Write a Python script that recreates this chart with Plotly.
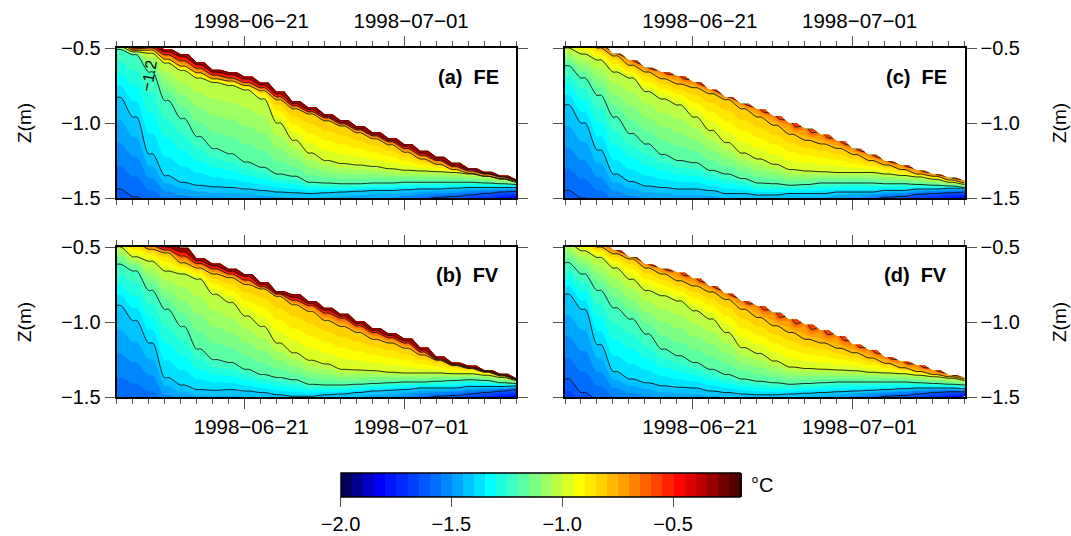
import numpy as np
import plotly.graph_objects as go

# Days since 1998-06-13; isotherm depths (m) read per day, per panel
DAYS = list(range(26))
DATE_TICKS = [8, 18]
DATE_LABELS = ["1998\u221206\u221221", "1998\u221207\u221201"]
DEPTH_TICKS = [-0.5, -1.0, -1.5]
CBAR_TICKS = [-2.0, -1.5, -1.0, -0.5]

a_m18 = [-1.72,-1.74,-1.76,-1.78,-1.80,-1.80,-1.80,-1.80,-1.80,-1.79,-1.78,-1.77,-1.76,-1.74,-1.72,-1.70,-1.67,-1.64,-1.61,-1.59,-1.57,-1.55,-1.53,-1.52,-1.505,-1.50]
a_m16 = [-1.44,-1.49,-1.53,-1.56,-1.57,-1.58,-1.59,-1.59,-1.59,-1.59,-1.59,-1.59,-1.59,-1.59,-1.58,-1.57,-1.56,-1.55,-1.53,-1.51,-1.495,-1.49,-1.48,-1.47,-1.46,-1.455]
a_m14 = [-0.83,-0.96,-1.205,-1.35,-1.395,-1.415,-1.425,-1.43,-1.44,-1.45,-1.46,-1.465,-1.47,-1.465,-1.46,-1.455,-1.45,-1.45,-1.445,-1.44,-1.44,-1.435,-1.43,-1.43,-1.43,-1.43]
a_m12 = [-0.51,-0.545,-0.66,-0.85,-0.97,-1.09,-1.17,-1.205,-1.26,-1.295,-1.34,-1.355,-1.395,-1.40,-1.405,-1.405,-1.40,-1.40,-1.395,-1.395,-1.395,-1.395,-1.395,-1.40,-1.405,-1.41]
a_m10 = [-0.49,-0.525,-0.535,-0.60,-0.65,-0.70,-0.73,-0.75,-0.78,-0.84,-1.0,-1.115,-1.20,-1.25,-1.27,-1.28,-1.29,-1.305,-1.315,-1.32,-1.325,-1.33,-1.34,-1.355,-1.375,-1.395]
a_m08 = [-0.47,-0.515,-0.515,-0.575,-0.62,-0.665,-0.705,-0.72,-0.75,-0.785,-0.845,-0.905,-0.94,-0.985,-1.02,-1.065,-1.105,-1.145,-1.195,-1.24,-1.275,-1.31,-1.335,-1.355,-1.37,-1.39]
a_m06 = [-0.45,-0.505,-0.50,-0.545,-0.585,-0.635,-0.68,-0.70,-0.73,-0.765,-0.825,-0.885,-0.925,-0.965,-1.005,-1.045,-1.085,-1.125,-1.17,-1.215,-1.25,-1.29,-1.32,-1.34,-1.36,-1.385]
a_m04 = [-0.43,-0.49,-0.485,-0.525,-0.555,-0.61,-0.66,-0.675,-0.705,-0.745,-0.805,-0.87,-0.91,-0.955,-0.995,-1.035,-1.075,-1.115,-1.155,-1.20,-1.24,-1.28,-1.31,-1.335,-1.355,-1.38]
a_top = [-0.38,-0.42,-0.47,-0.51,-0.54,-0.595,-0.645,-0.66,-0.69,-0.73,-0.79,-0.855,-0.895,-0.94,-0.98,-1.02,-1.06,-1.10,-1.14,-1.185,-1.225,-1.265,-1.30,-1.325,-1.35,-1.375]

b_m18 = [-1.78,-1.80,-1.82,-1.84,-1.85,-1.85,-1.85,-1.85,-1.85,-1.84,-1.83,-1.82,-1.80,-1.78,-1.75,-1.72,-1.69,-1.65,-1.62,-1.59,-1.57,-1.55,-1.53,-1.52,-1.505,-1.50]
b_m16 = [-1.53,-1.55,-1.57,-1.60,-1.61,-1.62,-1.62,-1.62,-1.62,-1.62,-1.62,-1.62,-1.62,-1.61,-1.60,-1.59,-1.57,-1.55,-1.53,-1.51,-1.495,-1.49,-1.48,-1.47,-1.46,-1.45]
b_m14 = [-0.89,-0.99,-1.14,-1.37,-1.42,-1.45,-1.455,-1.45,-1.46,-1.47,-1.485,-1.495,-1.495,-1.485,-1.48,-1.47,-1.46,-1.455,-1.45,-1.44,-1.44,-1.44,-1.43,-1.43,-1.43,-1.425]
b_m12 = [-0.615,-0.66,-0.79,-0.915,-1.03,-1.18,-1.25,-1.27,-1.315,-1.35,-1.37,-1.385,-1.415,-1.42,-1.42,-1.415,-1.41,-1.405,-1.40,-1.40,-1.395,-1.39,-1.385,-1.39,-1.405,-1.41]
b_m10 = [-0.50,-0.565,-0.595,-0.66,-0.68,-0.715,-0.815,-0.87,-0.96,-1.03,-1.14,-1.205,-1.255,-1.28,-1.315,-1.32,-1.325,-1.335,-1.34,-1.34,-1.34,-1.345,-1.345,-1.355,-1.37,-1.39]
b_m08 = [-0.42,-0.47,-0.515,-0.54,-0.605,-0.64,-0.68,-0.705,-0.75,-0.78,-0.83,-0.885,-0.93,-0.99,-1.03,-1.07,-1.115,-1.14,-1.175,-1.22,-1.255,-1.29,-1.31,-1.335,-1.36,-1.385]
b_m06 = [-0.40,-0.44,-0.49,-0.52,-0.56,-0.61,-0.645,-0.68,-0.72,-0.765,-0.815,-0.855,-0.89,-0.94,-0.975,-1.025,-1.07,-1.105,-1.14,-1.20,-1.25,-1.285,-1.305,-1.33,-1.355,-1.38]
b_m04 = [-0.38,-0.42,-0.47,-0.50,-0.53,-0.59,-0.625,-0.66,-0.695,-0.75,-0.805,-0.835,-0.875,-0.92,-0.96,-1.01,-1.055,-1.09,-1.125,-1.185,-1.24,-1.28,-1.30,-1.325,-1.35,-1.38]
b_top = [-0.36,-0.40,-0.45,-0.48,-0.505,-0.575,-0.61,-0.645,-0.68,-0.735,-0.795,-0.815,-0.86,-0.905,-0.945,-0.995,-1.04,-1.075,-1.11,-1.17,-1.23,-1.27,-1.29,-1.32,-1.345,-1.375]

c_m18 = [-1.72,-1.74,-1.76,-1.78,-1.80,-1.80,-1.80,-1.80,-1.80,-1.79,-1.78,-1.77,-1.76,-1.74,-1.72,-1.70,-1.67,-1.64,-1.61,-1.58,-1.56,-1.54,-1.53,-1.52,-1.505,-1.50]
c_m16 = [-1.45,-1.50,-1.54,-1.57,-1.58,-1.59,-1.60,-1.60,-1.60,-1.60,-1.60,-1.60,-1.60,-1.60,-1.59,-1.58,-1.57,-1.55,-1.53,-1.51,-1.495,-1.49,-1.475,-1.47,-1.465,-1.46]
c_m14 = [-0.88,-1.0,-1.18,-1.34,-1.39,-1.42,-1.43,-1.44,-1.44,-1.45,-1.47,-1.47,-1.48,-1.48,-1.47,-1.47,-1.47,-1.46,-1.46,-1.46,-1.45,-1.45,-1.44,-1.44,-1.435,-1.435]
c_m12 = [-0.62,-0.70,-0.815,-0.96,-1.07,-1.14,-1.21,-1.25,-1.265,-1.315,-1.34,-1.37,-1.40,-1.405,-1.415,-1.41,-1.40,-1.40,-1.40,-1.40,-1.405,-1.405,-1.41,-1.415,-1.42,-1.43]
c_m10 = [-0.50,-0.54,-0.58,-0.66,-0.70,-0.79,-0.84,-0.88,-0.96,-1.05,-1.13,-1.20,-1.24,-1.275,-1.31,-1.32,-1.325,-1.33,-1.33,-1.33,-1.34,-1.35,-1.36,-1.375,-1.395,-1.41]
c_m08 = [-0.38,-0.42,-0.50,-0.553,-0.615,-0.66,-0.705,-0.74,-0.765,-0.805,-0.845,-0.905,-0.96,-1.015,-1.075,-1.115,-1.14,-1.17,-1.21,-1.25,-1.28,-1.31,-1.34,-1.355,-1.38,-1.40]
c_top = [-0.36,-0.40,-0.48,-0.538,-0.582,-0.631,-0.66,-0.687,-0.727,-0.776,-0.827,-0.871,-0.909,-0.953,-1.0,-1.038,-1.076,-1.12,-1.171,-1.211,-1.253,-1.282,-1.316,-1.342,-1.365,-1.385]

d_m18 = [-1.70,-1.72,-1.75,-1.78,-1.80,-1.80,-1.80,-1.80,-1.80,-1.79,-1.78,-1.77,-1.76,-1.74,-1.72,-1.70,-1.67,-1.64,-1.61,-1.58,-1.56,-1.54,-1.53,-1.52,-1.505,-1.495]
d_m16 = [-1.38,-1.47,-1.52,-1.55,-1.57,-1.58,-1.59,-1.59,-1.60,-1.60,-1.60,-1.60,-1.60,-1.60,-1.59,-1.58,-1.57,-1.55,-1.53,-1.51,-1.495,-1.49,-1.48,-1.47,-1.465,-1.465]
d_m14 = [-0.815,-0.915,-1.15,-1.33,-1.38,-1.405,-1.425,-1.435,-1.44,-1.46,-1.47,-1.48,-1.485,-1.485,-1.48,-1.475,-1.47,-1.465,-1.46,-1.455,-1.45,-1.445,-1.44,-1.44,-1.44,-1.445]
d_m12 = [-0.605,-0.68,-0.79,-0.905,-0.98,-1.08,-1.18,-1.225,-1.27,-1.315,-1.35,-1.38,-1.395,-1.405,-1.415,-1.41,-1.405,-1.40,-1.40,-1.40,-1.40,-1.40,-1.405,-1.41,-1.415,-1.42]
d_m10 = [-0.47,-0.525,-0.57,-0.64,-0.715,-0.79,-0.825,-0.86,-0.925,-0.98,-1.07,-1.17,-1.21,-1.26,-1.30,-1.31,-1.315,-1.32,-1.325,-1.335,-1.34,-1.345,-1.355,-1.365,-1.375,-1.39]
d_m08 = [-0.40,-0.45,-0.50,-0.545,-0.58,-0.64,-0.68,-0.725,-0.76,-0.80,-0.85,-0.915,-0.97,-1.025,-1.07,-1.115,-1.14,-1.175,-1.205,-1.24,-1.275,-1.305,-1.33,-1.35,-1.365,-1.38]
d_top = [-0.36,-0.42,-0.47,-0.52,-0.567,-0.615,-0.645,-0.67,-0.71,-0.76,-0.81,-0.86,-0.893,-0.938,-0.982,-1.016,-1.055,-1.093,-1.15,-1.187,-1.233,-1.264,-1.289,-1.322,-1.353,-1.37]

LEVELS_FULL = [-1.8, -1.6, -1.4, -1.2, -1.0, -0.8, -0.6, -0.4, -0.25]
LEVELS_SHORT = [-1.8, -1.6, -1.4, -1.2, -1.0, -0.8, -0.6]
SKIN_T = [-0.68, -0.5]   # surface temperature just before/after each daily crest

PANELS = {
    "a": dict(rows=[a_m18,a_m16,a_m14,a_m12,a_m10,a_m08,a_m06,a_m04,a_top], levels=LEVELS_FULL, label="(a)\u00a0\u00a0FE"),
    "b": dict(rows=[b_m18,b_m16,b_m14,b_m12,b_m10,b_m08,b_m06,b_m04,b_top], levels=LEVELS_FULL, label="(b)\u00a0\u00a0FV"),
    "c": dict(rows=[c_m18,c_m16,c_m14,c_m12,c_m10,c_m08,c_top], levels=LEVELS_SHORT, label="(c)\u00a0\u00a0FE"),
    "d": dict(rows=[d_m18,d_m16,d_m14,d_m12,d_m10,d_m08,d_top], levels=LEVELS_SHORT, label="(d)\u00a0\u00a0FV"),
}

W, H = 1071, 536
X_DOM = {"a": (116.5, 516), "b": (116.5, 516), "c": (565, 964.5), "d": (565, 964.5)}
Y_DOM = {"a": (48, 198), "c": (48, 198), "b": (247, 397), "d": (247, 397)}
AX = {"a": "", "b": "2", "c": "3", "d": "4"}
WOBBLE = 0.55  # how much of each half-day isotherms hold their daily value; the surface holds it fully

CSCALE = [[0, "#000040"], [0.1, "#0000ff"], [0.25, "#0078ff"], [0.375, "#00ffff"],
          [0.49, "#80ff80"], [0.6, "#ffff00"], [0.72, "#ff9600"], [0.85, "#ff0000"], [1, "#400000"]]
FONT = "Liberation Sans"
TICKC = "#555555"
TICK_SIZE = 20

half_days = np.arange(52) / 2.0
fig = go.Figure()
for key, p in PANELS.items():
    depth = np.repeat(np.array(p["rows"], dtype=float), 2, axis=1)
    n_rows = depth.shape[0]
    temp = np.repeat(np.array(p["levels"], dtype=float)[:, None], 52, axis=1)
    if key in ("c", "d"):
        temp[-1] = np.resize(SKIN_T, 52)
    xgrid = np.tile(half_days, (n_rows, 1))
    xgrid[:-1, 1::2] = np.arange(26) + 0.5 * WOBBLE
    bvals = list(range(n_rows))
    xa, ya = "x" + AX[key], "y" + AX[key]
    fig.add_trace(go.Carpet(
        carpet=key, a=half_days, b=bvals, x=xgrid, y=depth, xaxis=xa, yaxis=ya,
        aaxis=dict(smoothing=0, showgrid=False, minorgridcount=0, startline=False, endline=False,
                   showticklabels="none", showline=False, tickmode="array", tickvals=[]),
        baxis=dict(smoothing=0, showgrid=False, minorgridcount=0, startline=False, endline=False,
                   showticklabels="none", showline=False, tickmode="array", tickvals=[]),
    ))
    fig.add_trace(go.Contourcarpet(
        carpet=key, a=half_days, b=bvals, z=temp, xaxis=xa, yaxis=ya,
        autocontour=False, contours=dict(start=-2.0, end=-0.2, size=0.05, coloring="fill", showlines=False),
        line=dict(width=0), zmin=-2.0, zmax=-0.2, colorscale=CSCALE,
        showscale=key == "a",
        colorbar=dict(orientation="h", thickness=24, thicknessmode="pixels", len=398.5, lenmode="pixels",
                      x=340.5 / W, xanchor="left", y=1 - 473 / H, yanchor="top", xpad=0, ypad=0,
                      outlinecolor="black", outlinewidth=1.5,
                      tickmode="array", tickvals=CBAR_TICKS, tickformat=".1f", ticks="outside", ticklen=10,
                      tickcolor=TICKC, tickfont=dict(size=TICK_SIZE, family=FONT, color="black")),
    ))
    fig.add_trace(go.Contourcarpet(
        carpet=key, a=half_days, b=bvals, z=temp, xaxis=xa, yaxis=ya,
        autocontour=False, contours=dict(start=-1.6, end=-0.2, size=0.2, coloring="none"),
        line=dict(color="#111111", width=0.9), showscale=False,
    ))

    top_row = key in ("a", "c")
    left_col = key in ("a", "b")
    xk, yk = "xaxis" + AX[key], "yaxis" + AX[key]
    fig.layout[xk] = dict(
        domain=[X_DOM[key][0] / W, X_DOM[key][1] / W], anchor=ya, range=[0, 25],
        side="top" if top_row else "bottom", tickmode="array", tickvals=DATE_TICKS, ticktext=DATE_LABELS,
        ticks="outside", ticklen=10, tickcolor=TICKC, tickwidth=1, showgrid=False, zeroline=False,
        showline=True, linecolor="black", linewidth=2, mirror="ticks", ticklabelshift=7,
        minor=dict(tickmode="array", tickvals=DAYS, ticks="outside", ticklen=5, tickcolor=TICKC, tickwidth=1, showgrid=False),
        tickfont=dict(size=20.5, family=FONT, color="black"),
    )
    fig.layout[yk] = dict(
        domain=[1 - Y_DOM[key][1] / H, 1 - Y_DOM[key][0] / H], anchor=xa, range=[-1.5, -0.5],
        side="left" if left_col else "right", tickmode="array", tickvals=DEPTH_TICKS, tickformat=".1f",
        ticks="outside", ticklen=10, tickcolor=TICKC, tickwidth=1, showgrid=False, zeroline=False,
        showline=True, linecolor="black", linewidth=2, mirror="ticks",
        tickfont=dict(size=TICK_SIZE, family=FONT, color="black"),
        title=dict(text="Z(m)", font=dict(size=19, family=FONT, color="black"), standoff=24 if left_col else 34),
    )
    fig.add_annotation(xref=xa + " domain", yref=ya + " domain", x=0.962, y=0.81, text=p["label"],
                       showarrow=False, xanchor="right", yanchor="middle",
                       font=dict(size=20, family=FONT, color="black", weight="bold"))

fig.add_annotation(xref="x", yref="y", x=2.0, y=-0.68, text="\u22121.2", textangle=-80, showarrow=False,
                   font=dict(size=16, family=FONT, color="black"))
fig.add_annotation(xref="paper", yref="paper", x=749 / W, y=1 - 485 / H, text="\u00b0C", showarrow=False,
                   xanchor="left", yanchor="middle", font=dict(size=TICK_SIZE, family=FONT, color="black"))

fig.update_layout(width=W, height=H, autosize=False, margin=dict(l=0, r=0, t=0, b=0, autoexpand=False),
                  paper_bgcolor="white", plot_bgcolor="white", showlegend=False)
fig.write_html("out.html", config={"displayModeBar": False}, post_script="document.body.style.margin='0';")
